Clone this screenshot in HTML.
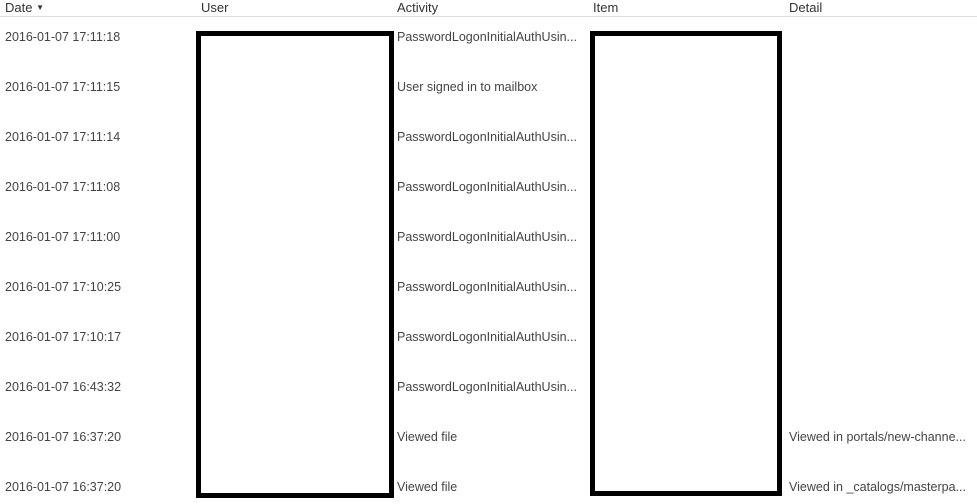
<!DOCTYPE html>
<html><head><style>
body{margin:0;width:977px;height:504px;background:#fff;position:relative;overflow:hidden;font-family:"Liberation Sans",sans-serif;}
.h{position:absolute;top:0;font-size:13px;color:#333;}
.t{position:absolute;font-size:12.5px;color:#444;white-space:nowrap;}
.line{position:absolute;left:0;top:16px;width:977px;height:1px;background:#ddd;}
.box{position:absolute;border:5px solid #000;box-sizing:border-box;background:#fff;}
</style></head><body>
<div class="h" style="left:5px">Date <span style="font-size:8px;position:relative;top:-2px">&#9660;</span></div>
<div class="h" style="left:201px">User</div>
<div class="h" style="left:397px">Activity</div>
<div class="h" style="left:593px">Item</div>
<div class="h" style="left:789px">Detail</div>
<div class="line"></div>

<div class="t" style="left:5px;top:30px">2016-01-07 17:11:18</div>
<div class="t" style="left:5px;top:80px">2016-01-07 17:11:15</div>
<div class="t" style="left:5px;top:130px">2016-01-07 17:11:14</div>
<div class="t" style="left:5px;top:180px">2016-01-07 17:11:08</div>
<div class="t" style="left:5px;top:230px">2016-01-07 17:11:00</div>
<div class="t" style="left:5px;top:280px">2016-01-07 17:10:25</div>
<div class="t" style="left:5px;top:330px">2016-01-07 17:10:17</div>
<div class="t" style="left:5px;top:380px">2016-01-07 16:43:32</div>
<div class="t" style="left:5px;top:430px">2016-01-07 16:37:20</div>
<div class="t" style="left:5px;top:480px">2016-01-07 16:37:20</div>

<div class="t" style="left:397px;top:30px">PasswordLogonInitialAuthUsin...</div>
<div class="t" style="left:397px;top:80px">User signed in to mailbox</div>
<div class="t" style="left:397px;top:130px">PasswordLogonInitialAuthUsin...</div>
<div class="t" style="left:397px;top:180px">PasswordLogonInitialAuthUsin...</div>
<div class="t" style="left:397px;top:230px">PasswordLogonInitialAuthUsin...</div>
<div class="t" style="left:397px;top:280px">PasswordLogonInitialAuthUsin...</div>
<div class="t" style="left:397px;top:330px">PasswordLogonInitialAuthUsin...</div>
<div class="t" style="left:397px;top:380px">PasswordLogonInitialAuthUsin...</div>
<div class="t" style="left:397px;top:430px">Viewed file</div>
<div class="t" style="left:397px;top:480px">Viewed file</div>

<div class="t" style="left:789px;top:430px">Viewed in portals/new-channe...</div>
<div class="t" style="left:789px;top:480px">Viewed in _catalogs/masterpa...</div>

<div class="box" style="left:196px;top:31px;width:198px;height:467px"></div>
<div class="box" style="left:590px;top:31px;width:192px;height:465px"></div>
</body></html>
